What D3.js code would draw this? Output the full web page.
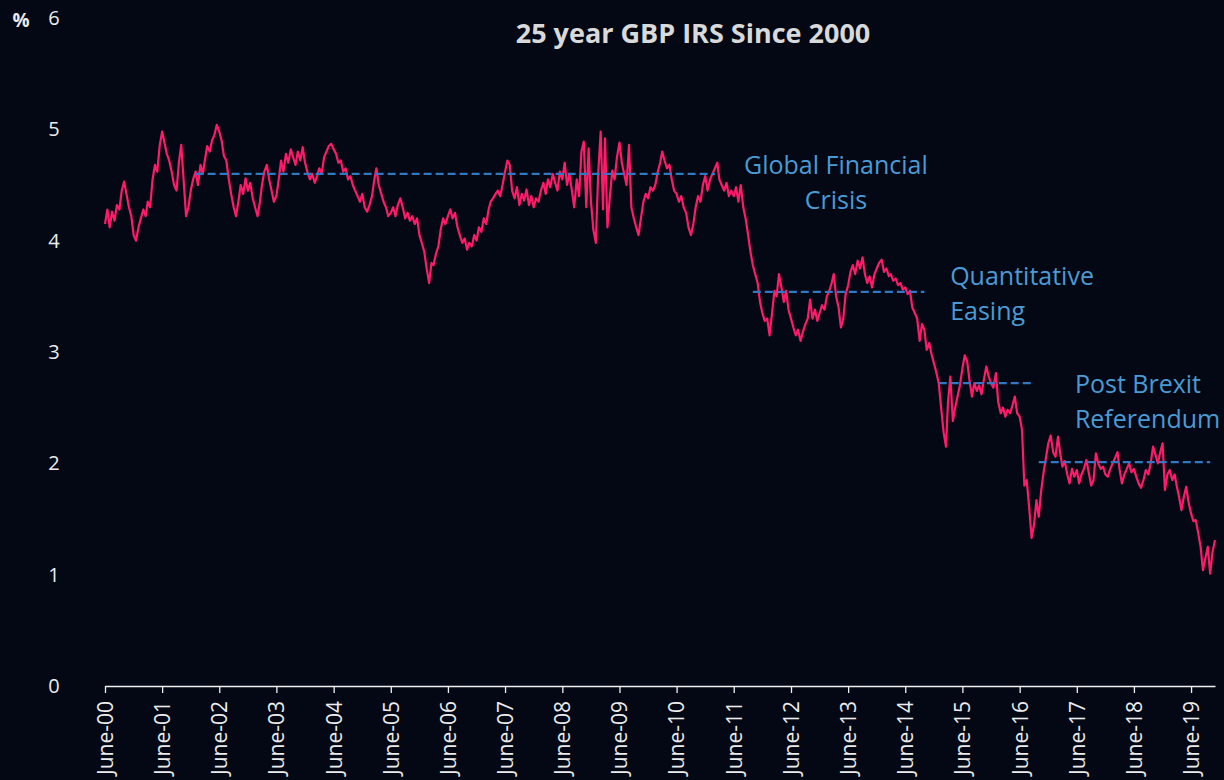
<!DOCTYPE html>
<html>
<head>
<meta charset="utf-8">
<script src="https://cdn.jsdelivr.net/npm/d3@7"></script>
<style>
  html, body { margin: 0; padding: 0; background: #030814; }
  svg { display: block; }
</style>
</head>
<body>
<svg id="chart" width="1224" height="780"></svg>
<script>
// Semi-monthly readings (1st and 16th of each month), one row per June–May year
const rates2000 = [4.15,4.28,4.12,4.26,4.18,4.32,4.28,4.45,4.53,4.42,4.30,4.22,4.05,4.0,4.12,4.2,4.28,4.22,4.35,4.3,4.55,4.68,4.62,4.85];
const rates2001 = [4.98,4.88,4.78,4.72,4.62,4.5,4.45,4.7,4.86,4.55,4.22,4.3,4.45,4.55,4.62,4.5,4.68,4.6,4.72,4.85,4.8,4.9,4.95,5.04];
const rates2002 = [4.98,4.9,4.76,4.72,4.55,4.42,4.3,4.22,4.35,4.5,4.42,4.56,4.45,4.52,4.38,4.3,4.22,4.35,4.5,4.62,4.68,4.55,4.45,4.35];
const rates2003 = [4.4,4.55,4.72,4.62,4.78,4.7,4.82,4.75,4.68,4.8,4.72,4.84,4.7,4.62,4.55,4.6,4.52,4.58,4.65,4.6,4.75,4.8,4.85,4.87];
const rates2004 = [4.82,4.78,4.7,4.72,4.62,4.65,4.55,4.58,4.5,4.45,4.4,4.35,4.42,4.3,4.26,4.32,4.4,4.55,4.65,4.5,4.42,4.35,4.3,4.22];
const rates2005 = [4.25,4.3,4.22,4.32,4.38,4.3,4.2,4.25,4.18,4.22,4.15,4.2,4.05,3.98,3.9,3.75,3.62,3.8,3.78,3.88,3.95,4.1,4.2,4.15];
const rates2006 = [4.22,4.28,4.2,4.25,4.12,4.05,3.98,4.02,3.92,3.98,3.95,4.05,4.0,4.12,4.08,4.2,4.15,4.28,4.35,4.38,4.42,4.45,4.4,4.5];
const rates2007 = [4.62,4.72,4.68,4.45,4.38,4.48,4.32,4.42,4.36,4.46,4.32,4.4,4.3,4.38,4.35,4.45,4.52,4.42,4.55,4.48,4.6,4.52,4.45,4.62];
const rates2008 = [4.55,4.7,4.5,4.6,4.45,4.3,4.55,4.4,4.8,4.89,4.3,4.83,4.35,4.1,3.98,4.6,4.98,4.28,4.92,4.12,4.4,4.63,4.55,4.75];
const rates2009 = [4.88,4.7,4.6,4.5,4.86,4.3,4.2,4.12,4.05,4.2,4.35,4.42,4.38,4.48,4.45,4.5,4.62,4.7,4.8,4.72,4.65,4.68,4.55,4.45];
const rates2010 = [4.42,4.35,4.4,4.3,4.25,4.12,4.05,4.15,4.3,4.4,4.35,4.5,4.58,4.45,4.55,4.6,4.65,4.7,4.55,4.5,4.45,4.52,4.4,4.45];
const rates2011 = [4.4,4.48,4.35,4.5,4.3,4.2,4.05,3.9,3.78,3.7,3.62,3.45,3.35,3.28,3.3,3.15,3.35,3.55,3.5,3.7,3.58,3.45,3.55,3.38];
const rates2012 = [3.3,3.22,3.15,3.2,3.1,3.18,3.25,3.3,3.47,3.3,3.38,3.28,3.35,3.42,3.38,3.5,3.55,3.62,3.7,3.5,3.4,3.22,3.3,3.52];
const rates2013 = [3.6,3.72,3.78,3.7,3.82,3.75,3.85,3.7,3.62,3.68,3.58,3.7,3.75,3.8,3.83,3.72,3.75,3.68,3.7,3.64,3.66,3.6,3.62,3.56];
const rates2014 = [3.58,3.52,3.55,3.4,3.35,3.3,3.1,3.25,3.2,3.02,3.08,2.98,2.9,2.82,2.72,2.5,2.28,2.15,2.55,2.78,2.38,2.5,2.6,2.7];
const rates2015 = [2.85,2.97,2.92,2.75,2.6,2.72,2.65,2.7,2.62,2.75,2.87,2.78,2.72,2.68,2.81,2.55,2.45,2.5,2.42,2.48,2.45,2.52,2.6,2.45];
const rates2016 = [2.42,2.3,1.8,1.85,1.6,1.33,1.45,1.67,1.52,1.75,1.92,2.05,2.18,2.25,2.1,2.06,2.24,2.08,1.97,2.02,1.9,1.82,1.95,1.88];
const rates2017 = [1.94,1.82,1.9,1.95,2.03,1.92,1.8,1.85,2.09,2.0,1.95,1.97,1.9,1.88,1.95,2.0,2.05,2.1,1.95,1.82,1.9,1.95,2.0,1.92];
const rates2018 = [1.95,1.88,1.82,1.78,1.85,1.94,1.9,2.0,2.15,2.08,2.0,2.1,2.18,1.76,1.9,1.94,1.85,1.9,1.8,1.7,1.58,1.7,1.79,1.65];
const rates2019 = [1.55,1.48,1.49,1.38,1.25,1.04,1.15,1.25,1.01,1.2,1.31];

const tickLabels = ["June-00","June-01","June-02","June-03","June-04","June-05","June-06","June-07","June-08","June-09",
                    "June-10","June-11","June-12","June-13","June-14","June-15","June-16","June-17","June-18","June-19"];
const yTicks = [0,1,2,3,4,5,6];

// Period averages (dashed lines): start, end, level
const avgStart = ["2002-01-01","2011-10-01","2015-01-01","2016-10-01"];
const avgEnd   = ["2011-02-01","2014-10-01","2016-09-01","2019-10-01"];
const avgLevel = [4.6, 3.54, 2.72, 2.01];

// Annotations
const annLines  = [["Global Financial","Crisis"],["Quantitative","Easing"],["Post Brexit","Referendum"]];
const annDate   = ["2013-03-15","2015-03-15","2017-05-20"];
const annLevel  = [4.6, 3.6, 2.63];
const annAnchor = ["middle","start","start"];

// ---------- build ----------
const parse = d3.timeParse("%Y-%m-%d");
const start = new Date(2000, 5, 1);
const allRates = [].concat(rates2000,rates2001,rates2002,rates2003,rates2004,rates2005,rates2006,rates2007,
  rates2008,rates2009,rates2010,rates2011,rates2012,rates2013,rates2014,rates2015,rates2016,rates2017,rates2018,rates2019);
const data = allRates.map((v, i) => {
  const d = d3.timeMonth.offset(start, Math.floor(i / 2));
  return { date: i % 2 ? d3.timeDay.offset(d, 15) : d, value: v };
});

const svg = d3.select("#chart");
const x = d3.scaleTime().domain([start, data[data.length - 1].date]).range([105, 1215]);
const y = d3.scaleLinear().domain([0, 6]).range([686, 18]);

const textCol = "#ececec";
const font = "'Open Sans', 'DejaVu Sans', sans-serif";

// Title
svg.append("text").attr("x", 693).attr("y", 43).attr("text-anchor", "middle")
  .attr("font-family", font).attr("font-weight", "bold").attr("font-size", 27)
  .attr("fill", "#d9d9d9").text("25 year GBP IRS Since 2000");

// % unit
svg.append("text").attr("x", 21).attr("y", 20).attr("dy", "0.35em").attr("text-anchor", "middle")
  .attr("font-family", font).attr("font-weight", "bold").attr("font-size", 19)
  .attr("fill", textCol).text("%");

// Y tick labels
svg.append("g").selectAll("text").data(yTicks).join("text")
  .attr("x", 54).attr("y", d => y(d)).attr("dy", "0.35em").attr("text-anchor", "middle")
  .attr("font-family", font).attr("font-size", 20).attr("fill", textCol).text(d => d);

// X axis
const tickDates = tickLabels.map((_, i) => new Date(2000 + i, 5, 1));
const xAxis = d3.axisBottom(x).tickValues(tickDates).tickSize(7).tickSizeOuter(0)
  .tickFormat((d, i) => tickLabels[i]);
const gx = svg.append("g").attr("transform", "translate(0,686)").call(xAxis);
gx.select(".domain").attr("stroke", "#f0f0f0").attr("stroke-width", 1.6);
gx.selectAll(".tick line").attr("stroke", "#f0f0f0").attr("stroke-width", 1.3);
gx.selectAll(".tick text")
  .attr("transform", "rotate(-90)").attr("text-anchor", "end")
  .attr("x", -15).attr("y", 0).attr("dy", "0.35em")
  .attr("font-family", font).attr("font-size", 21).attr("fill", textCol);

// Series line
const line = d3.line().x(d => x(d.date)).y(d => y(d.value));
svg.append("path").datum(data).attr("d", line).attr("fill", "none")
  .attr("stroke", "#ff1a6a").attr("stroke-width", 2.2).attr("stroke-linejoin", "round");

// Average dashed lines
svg.append("g").selectAll("line").data(avgLevel).join("line")
  .attr("x1", (d, i) => x(parse(avgStart[i]))).attr("x2", (d, i) => x(parse(avgEnd[i])))
  .attr("y1", d => y(d)).attr("y2", d => y(d))
  .attr("stroke", "#2f78c2").attr("stroke-width", 2.3).attr("stroke-dasharray", "8,4");

// Annotations
annLines.forEach((lines, i) => {
  const t = svg.append("text").attr("x", x(parse(annDate[i]))).attr("y", y(annLevel[i]))
    .attr("text-anchor", annAnchor[i]).attr("font-family", font).attr("font-size", 25)
    .attr("fill", "#4a9bd5");
  lines.forEach((s, j) => t.append("tspan").attr("x", x(parse(annDate[i]))).attr("dy", j ? 35 : 0).text(s));
});
</script>
</body>
</html>
